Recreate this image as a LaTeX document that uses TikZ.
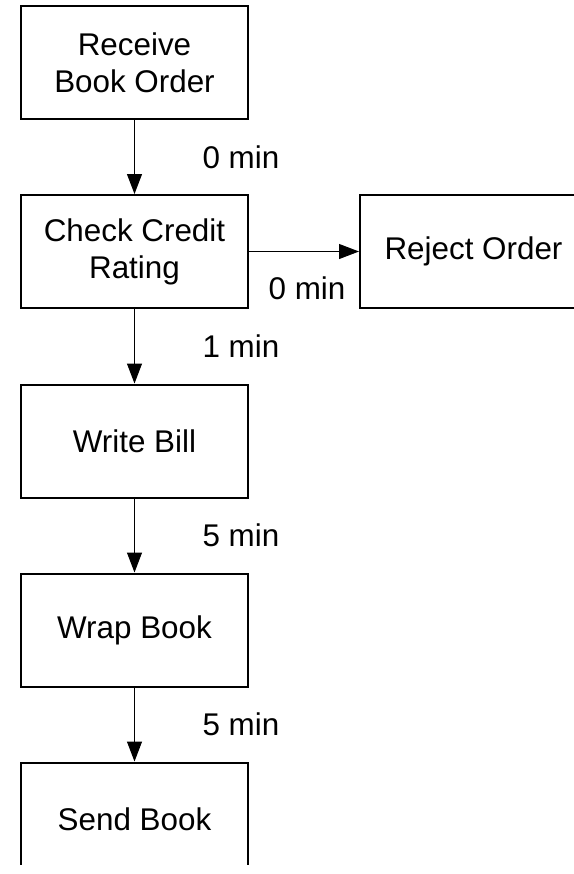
\documentclass[tikz,border=0pt]{standalone}
\usepackage{fontspec}
\setmainfont{Liberation Sans}
\usetikzlibrary{arrows.meta}
\begin{document}
\begin{tikzpicture}[x=1bp,y=-1bp,
  stepbox/.style={draw, line width=2bp, minimum width=227bp, minimum height=113bp,
    align=center, inner sep=0pt, font=\fontsize{31.5}{37}\selectfont},
  flow/.style={line width=1bp, -{Triangle[width=15bp,length=20bp]}},
  timelbl/.style={inner sep=0pt, font=\fontsize{31.5}{37}\selectfont}]
\useasboundingbox (0,0) rectangle (574,874);
\clip (0,0) rectangle (574,864);

% process steps
\node[stepbox] (receive) at (134.5,62.5)  {Receive\\Book Order};
\node[stepbox] (credit)  at (134.5,251.5) {Check Credit\\Rating};
\node[stepbox] (reject)  at (473.5,251.5) {Reject Order};
\node[stepbox] (bill)    at (134.5,441)   {Write Bill};
\node[stepbox] (wrap)    at (134.5,630)   {Wrap Book};
\node[stepbox] (send)    at (134.5,819)   {Send Book};

% transitions with their durations
\draw[flow] (receive) -- node[timelbl, anchor=west, xshift=67.5bp] (t1) {0 min} (credit);
\draw[flow] (credit) -- node[timelbl, anchor=north, xshift=3bp, yshift=-25bp] (t2) {0 min} (reject);
\draw[flow] (credit) -- node[timelbl, anchor=west, xshift=67.5bp] (t3) {1 min} (bill);
\draw[flow] (bill) -- node[timelbl, anchor=west, xshift=67.5bp] (t4) {5 min} (wrap);
\draw[flow] (wrap) -- node[timelbl, anchor=west, xshift=67.5bp] (t5) {5 min} (send);
\end{tikzpicture}
\end{document}
